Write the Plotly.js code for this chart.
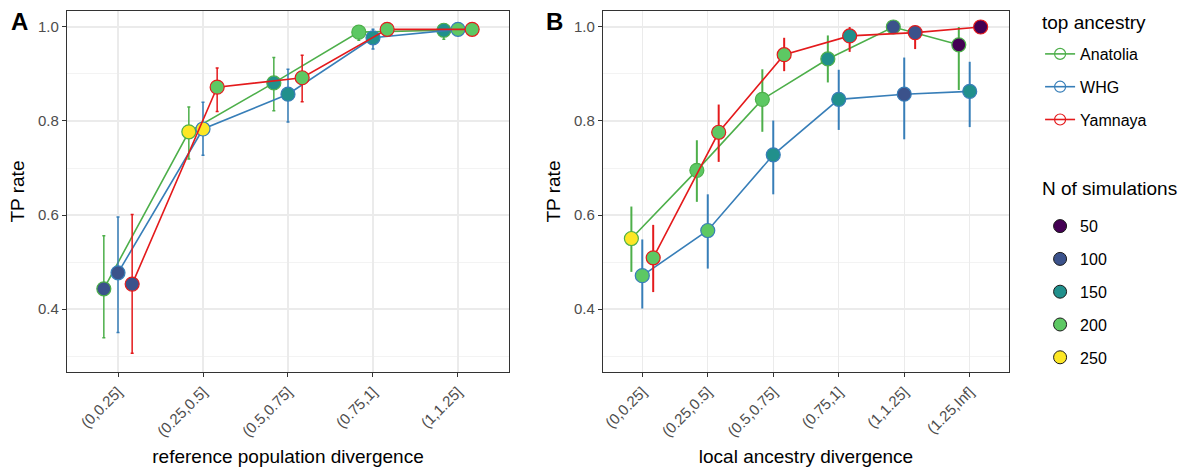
<!DOCTYPE html>
<html><head><meta charset="utf-8">
<script src="https://cdn.plot.ly/plotly-3.0.1.min.js"></script>
<style>html,body{margin:0;padding:0;background:#fff}#chart{width:1192px;height:473px}</style>
</head><body><div id="chart"></div>
<script>
// ---- data ----
const catsA = ['(0,0.25]','(0.25,0.5]','(0.5,0.75]','(0.75,1]','(1,1.25]'];
const catsB = ['(0,0.25]','(0.25,0.5]','(0.5,0.75]','(0.75,1]','(1,1.25]','(1.25,Inf]'];
const ancestries = ['Anatolia','WHG','Yamnaya'];
const nLevels = [50,100,150,200,250];

// Panel A: reference population divergence
const anatA_y  = [0.443,0.777,0.881,0.989,0.993];
const anatA_lo = [0.339,0.719,0.822,0.972,0.974];
const anatA_hi = [0.556,0.830,0.935,1.000,1.000];
const anatA_n  = [100,250,150,200,150];
const whgA_y   = [0.477,0.783,0.857,0.977,0.995];
const whgA_lo  = [0.350,0.727,0.798,0.953,0.985];
const whgA_hi  = [0.596,0.840,0.910,0.995,1.000];
const whgA_n   = [100,250,150,150,200];
const yamA_y   = [0.453,0.872,0.892,0.995,0.995];
const yamA_lo  = [0.306,0.820,0.841,0.985,0.985];
const yamA_hi  = [0.601,0.913,0.940,1.000,1.000];
const yamA_n   = [100,200,200,200,200];

// Panel B: local ancestry divergence
const anatB_y  = [0.550,0.695,0.846,0.932,1.000,0.962];
const anatB_lo = [0.479,0.628,0.777,0.882,1.000,0.866];
const anatB_hi = [0.618,0.759,0.910,0.982,1.000,1.000];
const anatB_n  = [250,200,200,150,100,50];
const whgB_y   = [0.471,0.567,0.728,0.846,0.857,0.863];
const whgB_lo  = [0.401,0.486,0.644,0.781,0.761,0.787];
const whgB_hi  = [0.548,0.644,0.801,0.909,0.935,0.926];
const whgB_n   = [200,200,150,150,100,150];
const yamB_y   = [0.509,0.776,0.941,0.981,0.988,1.000];
const yamB_lo  = [0.436,0.713,0.906,0.947,0.953,1.000];
const yamB_hi  = [0.579,0.835,0.977,1.000,1.000,1.000];
const yamB_n   = [200,200,200,150,100,50];

// ---- styles ----
const lineCol = {Anatolia:'#4DAF4A', WHG:'#377EB8', Yamnaya:'#E41A1C'};
const viridis = {50:'#440154',100:'#3B528B',150:'#21908C',200:'#5DC863',250:'#FDE725'};
const dodge = {Anatolia:-1/6, WHG:0, Yamnaya:1/6};
const FONT = 'Liberation Sans, Arial, sans-serif';

function series(name, y, lo, hi, n, xa, ya, capW, errW){
  const x = y.map((_,i)=> i+1+dodge[name]);
  return {
    type:'scatter', mode:'lines+markers', x:x, y:y, xaxis:xa, yaxis:ya,
    showlegend:false, hoverinfo:'skip',
    line:{color:lineCol[name], width:1.6},
    marker:{size:14, color:n.map(v=>viridis[v]), line:{color:lineCol[name], width:1.2}},
    error_y:{type:'data', symmetric:false,
      array:hi.map((h,i)=>h-y[i]), arrayminus:lo.map((l,i)=>y[i]-l),
      color:lineCol[name], thickness:errW, width:capW}
  };
}

const traces = [
  series('Anatolia', anatA_y, anatA_lo, anatA_hi, anatA_n, 'x','y',1.5,1.5),
  series('WHG', whgA_y, whgA_lo, whgA_hi, whgA_n, 'x','y',1.5,1.5),
  series('Yamnaya', yamA_y, yamA_lo, yamA_hi, yamA_n, 'x','y',1.5,1.5),
  series('Anatolia', anatB_y, anatB_lo, anatB_hi, anatB_n, 'x2','y2',0,2),
  series('WHG', whgB_y, whgB_lo, whgB_hi, whgB_n, 'x2','y2',0,2),
  series('Yamnaya', yamB_y, yamB_lo, yamB_hi, yamB_n, 'x2','y2',0,2)
];
// legend entries
ancestries.forEach((a,i)=>traces.push({
  type:'scatter', mode:'lines+markers', x:[null], y:[null], name:a, legend:'legend',
  legendgroup:'a'+i, showlegend:true,
  line:{color:lineCol[a], width:1.6},
  marker:{size:11, symbol:'circle-open', color:lineCol[a], line:{width:1.2}}
}));
nLevels.forEach((n,i)=>traces.push({
  type:'scatter', mode:'markers', x:[null], y:[null], name:String(n), legend:'legend2',
  legendgroup:'n'+i, showlegend:true,
  marker:{size:13, color:viridis[n], line:{color:'#1a1a1a', width:1}}
}));

const yax = {
  range:[0.266,1.034], tickvals:[0.4,0.6,0.8,1.0], ticktext:['0.4','0.6','0.8','1.0'],
  showgrid:true, gridcolor:'#EBEBEB', gridwidth:1.1,
  minor:{tickvals:[0.3,0.5,0.7,0.9], showgrid:true, gridcolor:'#F3F3F3', gridwidth:1, ticks:''},
  ticks:'outside', ticklen:4, tickcolor:'#333333', tickwidth:1,
  tickfont:{family:FONT, size:15, color:'#4D4D4D'},
  showline:true, mirror:true, linecolor:'#333333', linewidth:1.2,
  zeroline:false, fixedrange:true,
  title:{text:'TP rate', font:{family:FONT, size:19, color:'#000'}, standoff:8}
};
function xax(cats, domain, title){
  return {
    domain:domain, range:[0.4, cats.length+0.6],
    tickvals:cats.map((_,i)=>i+1), ticktext:cats, tickangle:-45,
    showgrid:true, gridcolor:'#EBEBEB', gridwidth:1.1,
    ticks:'outside', ticklen:4, tickcolor:'#333333', tickwidth:1,
    tickfont:{family:FONT, size:15, color:'#4D4D4D'},
    showline:true, mirror:true, linecolor:'#333333', linewidth:1.2,
    zeroline:false, fixedrange:true,
    title:{text:title, font:{family:FONT, size:19, color:'#000'}, standoff:10}
  };
}

const legCommon = {
  xanchor:'left', yanchor:'top',
  font:{family:FONT, size:16, color:'#000'},
  traceorder:'grouped', tracegroupgap:9, bgcolor:'rgba(0,0,0,0)'
};

const layout = {
  width:1192, height:473,
  margin:{l:67, r:183, t:11, b:101},
  paper_bgcolor:'#fff', plot_bgcolor:'#fff',
  font:{family:FONT},
  xaxis: xax(catsA, [0, 0.4692], 'reference population divergence'),
  yaxis: Object.assign({}, yax, {anchor:'x'}),
  xaxis2: xax(catsB, [0.569, 1], 'local ancestry divergence'),
  yaxis2: Object.assign({}, yax, {anchor:'x2'}),
  legend: Object.assign({x:1.033, y:0.928}, legCommon),
  legend2: Object.assign({x:1.033, y:0.451}, legCommon),
  annotations:[
    {text:'<b>A</b>', xref:'paper', yref:'paper', x:-0.05, y:0.97, xanchor:'center', yanchor:'middle', showarrow:false, font:{family:FONT, size:24, color:'#000'}},
    {text:'<b>B</b>', xref:'paper', yref:'paper', x:0.518, y:0.97, xanchor:'center', yanchor:'middle', showarrow:false, font:{family:FONT, size:24, color:'#000'}},
    {text:'top ancestry', xref:'paper', yref:'paper', x:(1040-67)/942, y:1-(22-11)/361, xanchor:'left', yanchor:'middle', showarrow:false, font:{family:FONT, size:19, color:'#000'}},
    {text:'N of simulations', xref:'paper', yref:'paper', x:(1040-67)/942, y:1-(188-11)/361, xanchor:'left', yanchor:'middle', showarrow:false, font:{family:FONT, size:19, color:'#000'}}
  ]
};

Plotly.newPlot('chart', traces, layout, {displayModeBar:false, staticPlot:true});
</script>
</body></html>
